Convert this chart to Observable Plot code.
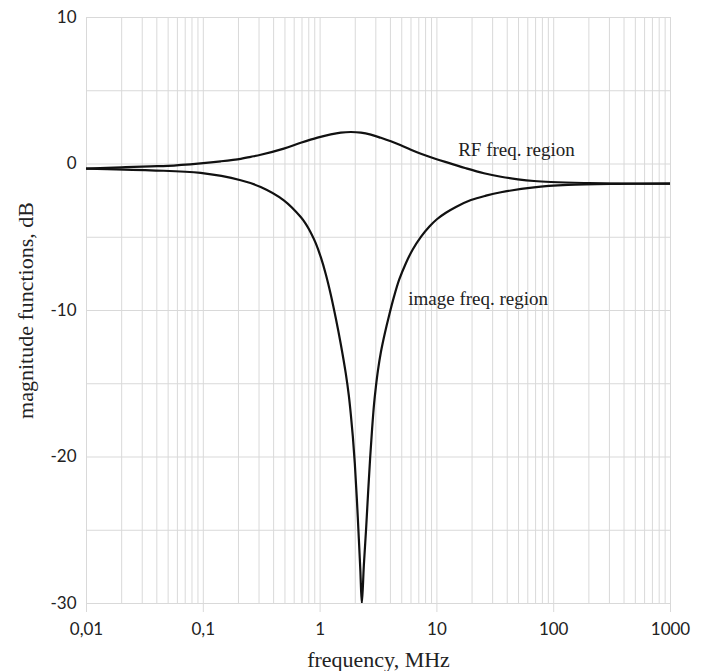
<!DOCTYPE html>
<html><head><meta charset="utf-8">
<script src="https://cdn.jsdelivr.net/npm/d3@7"></script>
<script src="https://cdn.jsdelivr.net/npm/@observablehq/plot@0.6"></script>
<style>body{margin:0;background:#fff}</style>
</head><body><div id="chart"></div>
<script>
// RF region magnitude (dB) vs frequency (MHz)
const rfFreq = [0.01,0.02,0.0354,0.0498,0.0948,0.141,0.209,0.255,0.310,0.489,0.683,0.950,1.235,1.504,1.833,2.233,2.719,3.313,4.035,4.914,5.987,7.295,9.804,13.18,17.72,25.27,35.35,49.43,67.8,94.8,181.8,377.2,1000];
const rfDb   = [-0.31,-0.225,-0.157,-0.123,0.048,0.184,0.355,0.491,0.628,1.050,1.446,1.801,2.026,2.142,2.183,2.142,2.005,1.787,1.548,1.276,0.969,0.696,0.341,0.027,-0.293,-0.634,-0.873,-1.044,-1.160,-1.228,-1.296,-1.330,-1.337];
// image region magnitude (dB) vs frequency (MHz)
const imFreq = [0.01,0.0354,0.0948,0.209,0.310,0.489,0.683,0.754,0.833,0.919,1.014,1.119,1.235,1.363,1.504,1.660,1.762,1.833,1.907,1.983,2.063,2.146,2.211,2.277,
                2.369,2.479,2.578,2.682,2.790,2.902,3.001,3.122,3.313,3.584,3.902,4.281,4.753,5.425,6.192,7.295,8.591,10,11.94,14.55,19.56,26.30,35.35,67.8,132.6,355.7,1000];
const imDb   = [-0.31,-0.43,-0.61,-1.11,-1.57,-2.48,-3.62,-4.09,-4.69,-5.42,-6.36,-7.52,-8.92,-10.53,-12.30,-14.31,-15.81,-17.11,-18.61,-20.45,-22.84,-25.57,-27.75,-30.0,
                -27.4,-24.85,-22.39,-20.07,-18.03,-16.32,-15.23,-14.14,-12.85,-11.55,-10.32,-9.09,-7.90,-6.77,-5.85,-4.97,-4.28,-3.77,-3.33,-2.93,-2.46,-2.16,-1.93,-1.59,-1.43,-1.36,-1.34];

const xTicks = [0.01,0.1,1,10,100,1000];
const xTickLabels = ["0,01","0,1","1","10","100","1000"];
const yTicks = [-30,-20,-10,0,10];
const yTickLabels = ["-30","-20","-10","0","10"];
const xGrid = [];
for (const dec of [0.01,0.1,1,10,100]) for (let k = 1; k <= 9; k++) xGrid.push(+(dec*k).toPrecision(3));
xGrid.push(1000);
const yGrid = [-30,-25,-20,-15,-10,-5,0,5,10];

const annoLabels = ["RF freq. region","image freq. region"];
const annoFreq = [15.2, 5.68];
const annoDb = [0.94, -9.22];

const rf = rfFreq.map((f,i)=>({f, db: rfDb[i]}));
const im = imFreq.map((f,i)=>({f, db: imDb[i]}));
const anno = annoLabels.map((label,i)=>({label, f: annoFreq[i], db: annoDb[i]}));

const serif = "'Liberation Serif', 'Times New Roman', serif";
const chart = Plot.plot({
  width: 701, height: 671,
  marginLeft: 86, marginRight: 31, marginTop: 17, marginBottom: 68,
  style: {background: "#fff", fontFamily: "Lato, sans-serif"},
  x: {type: "log", domain: [0.01, 1000]},
  y: {domain: [-30, 10]},
  marks: [
    Plot.ruleX(xGrid, {stroke: "#d9d9d9", strokeWidth: 1}),
    Plot.ruleY(yGrid, {stroke: "#d9d9d9", strokeWidth: 1}),
    Plot.axisX({ticks: xTicks, tickFormat: d => xTickLabels[xTicks.indexOf(d)], tickSize: 9, tickPadding: 10,
      stroke: "#d9d9d9", fill: "#222", fontSize: 17, label: null}),
    Plot.axisY({ticks: yTicks, tickFormat: d => yTickLabels[yTicks.indexOf(d)], tickSize: 0, tickPadding: 10,
      fill: "#222", fontSize: 17, label: null}),
    Plot.line(rf, {x: "f", y: "db", stroke: "#111", strokeWidth: 2.2, curve: "catmull-rom", clip: true}),
    Plot.line(im, {x: "f", y: "db", stroke: "#111", strokeWidth: 2.2, curve: "catmull-rom", clip: true}),
    Plot.text(anno, {x: "f", y: "db", text: "label", textAnchor: "start", lineAnchor: "middle",
      fontFamily: serif, fontSize: 19, fill: "#222"}),
    Plot.text(["frequency, MHz"], {frameAnchor: "bottom", dy: 56, textAnchor: "middle", lineAnchor: "middle",
      fontFamily: serif, fontSize: 22, fill: "#222"}),
    Plot.text(["magnitude functions, dB"], {frameAnchor: "left", dx: -61, rotate: -90, textAnchor: "middle", lineAnchor: "middle",
      fontFamily: serif, fontSize: 22, fill: "#222"})
  ]
});
document.getElementById("chart").appendChild(chart);
</script>
</body></html>
